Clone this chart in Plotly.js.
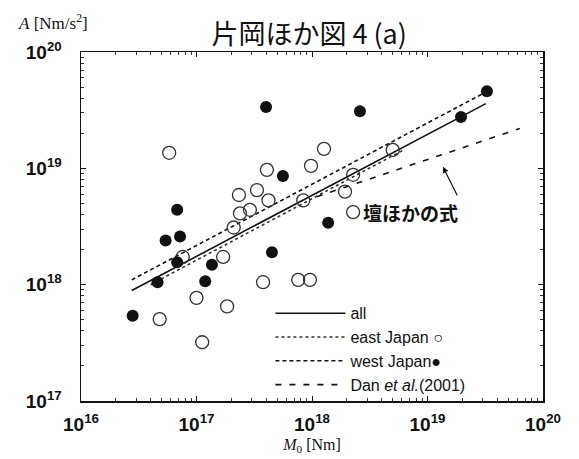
<!DOCTYPE html>
<html>
<head>
<meta charset="utf-8">
<script src="https://cdn.plot.ly/plotly-3.0.1.min.js"></script>
<style>html,body{margin:0;padding:0;background:#fff;}#chart{width:579px;height:459px;}</style>
</head>
<body>
<div id="chart"></div>
<script>
// West Japan (filled circles)
const westM0 = [4.0e17, 5.6e17, 6.8e16, 5.4e16, 7.2e16, 4.5e17, 1.36e17, 6.8e16, 4.6e16, 1.19e17, 2.8e16, 1.38e18, 2.6e18, 1.95e19, 3.27e19];
const westA  = [3.37e19, 8.6e18, 4.4e18, 2.4e18, 2.6e18, 1.9e18, 1.48e18, 1.56e18, 1.05e18, 1.07e18, 5.4e17, 3.4e18, 3.1e19, 2.76e19, 4.6e19];
// East Japan (open circles)
const eastM0 = [5.8e16, 4.07e17, 9.8e17, 1.27e18, 2.33e17, 3.34e17, 4.2e17, 2.38e17, 2.9e17, 2.1e17, 1.7e17, 7.6e16, 3.77e17, 7.6e17, 9.6e17, 1.0e17, 1.84e17, 4.8e16, 1.12e17, 5.0e18, 2.27e18, 2.27e18, 1.93e18, 8.4e17];
const eastA  = [1.36e19, 9.7e18, 1.05e19, 1.47e19, 5.9e18, 6.5e18, 5.3e18, 4.1e18, 4.4e18, 3.1e18, 1.73e18, 1.73e18, 1.05e18, 1.1e18, 1.1e18, 7.7e17, 6.5e17, 5.06e17, 3.2e17, 1.44e19, 8.8e18, 4.2e18, 6.3e18, 5.3e18];
// Regression / reference lines (end points)
const allLineM0  = [2.75e16, 3.2e19];
const allLineA   = [8.9e17, 3.6e19];
const eastLineM0 = [4.0e16, 6.3e18];
const eastLineA  = [1.0e18, 1.45e19];
const westLineM0 = [2.75e16, 3.3e19];
const westLineA  = [1.1e18, 4.6e19];
const danLineM0  = [1.1e18, 6.3e19];
const danLineA   = [5.7e18, 2.2e19];
// Axis ticks
const xTickVals = [1e16, 1e17, 1e18, 1e19, 1e20];
const xTickText = ['10<sup>16</sup>', '10<sup>17</sup>', '10<sup>18</sup>', '10<sup>19</sup>', '10<sup>20</sup>'];
const yTickVals = [1e17, 1e18, 1e19, 1e20];
const yTickText = ['10<sup>17</sup>', '10<sup>18</sup>', '10<sup>19</sup>', '10<sup>20</sup>'];
const legendNames = ['all', 'east Japan ○', 'west Japan●', 'Dan <i>et al.</i>(2001)'];

const tickFont = {family: 'Liberation Sans, Arial, sans-serif', size: 19, color: '#111', weight: 'bold'};

const traces = [
  {x: allLineM0, y: allLineA, mode: 'lines', name: legendNames[0], line: {color: '#111', width: 1.6, dash: 'solid'}},
  {x: eastLineM0, y: eastLineA, mode: 'lines', name: legendNames[1], line: {color: '#333', width: 1.6, dash: 'dot'}},
  {x: westLineM0, y: westLineA, mode: 'lines', name: legendNames[2], line: {color: '#111', width: 1.6, dash: '4px,3px'}},
  {x: danLineM0, y: danLineA, mode: 'lines', name: legendNames[3], line: {color: '#111', width: 1.6, dash: '6px,8px'}},
  {x: eastM0, y: eastA, mode: 'markers', showlegend: false,
   marker: {symbol: 'circle-open', size: 13, color: '#333', line: {width: 1.3, color: '#333'}}},
  {x: westM0, y: westA, mode: 'markers', showlegend: false,
   marker: {symbol: 'circle', size: 12, color: '#111', line: {width: 0}}}
];

const axisCommon = {
  type: 'log', showgrid: false, zeroline: false,
  showline: true, linecolor: '#111', linewidth: 1.5, mirror: 'allticks',
  ticks: 'inside', ticklen: 5, tickcolor: '#111', tickwidth: 1,
  tickmode: 'array', tickfont: tickFont,
  minor: {ticks: 'inside', ticklen: 3, tickcolor: '#333', dtick: 'D1', showgrid: false}
};

const layout = {
  width: 579, height: 459,
  margin: {l: 81, r: 36, t: 52, b: 58},
  paper_bgcolor: '#fff', plot_bgcolor: '#fff',
  title: {text: '片岡ほか図 4 (a)', font: {family: 'Noto Sans CJK JP, sans-serif', size: 27, color: '#111'},
          xref: 'container', yref: 'container', x: 0.534, y: 0.925, xanchor: 'center', yanchor: 'middle'},
  xaxis: Object.assign({}, axisCommon, {range: [16, 20], tickvals: xTickVals, ticktext: xTickText, ticklabelstandoff: 6,
          title: {text: '<i>M</i><sub>0</sub> [Nm]', font: {family: 'Liberation Serif, Times New Roman, serif', size: 16, color: '#111'}, standoff: 4}}),
  yaxis: Object.assign({}, axisCommon, {range: [17, 20], tickvals: yTickVals, ticktext: yTickText, ticklabelstandoff: 14}),
  showlegend: true,
  legend: {x: 0.41, y: 0.30, xanchor: 'left', yanchor: 'top', bgcolor: 'rgba(255,255,255,0)', borderwidth: 0,
           itemwidth: 70, tracegroupgap: 0,
           font: {family: 'Liberation Sans, Arial, sans-serif', size: 16, color: '#111'}},
  annotations: [
    {xref: 'paper', yref: 'paper', x: -0.14, y: 1.0, yshift: 30, xanchor: 'left', yanchor: 'middle', showarrow: false,
     text: '<i>A</i> [Nm/s<sup>2</sup>]', font: {family: 'Liberation Serif, Times New Roman, serif', size: 17, color: '#111'}},
    {x: Math.log10(1.36e19), y: Math.log10(1.03e19), xref: 'x', yref: 'y', showarrow: true, arrowhead: 2, arrowsize: 1,
     arrowwidth: 1.2, arrowcolor: '#111', ax: 15, ay: 30, text: ''},
    {x: Math.log10(7.1e18), y: Math.log10(4.2e18), xref: 'x', yref: 'y', showarrow: false,
     text: '<b>壇ほかの式</b>', font: {family: 'Noto Sans CJK JP, sans-serif', size: 19, color: '#111'}}
  ]
};

Plotly.newPlot('chart', traces, layout, {displayModeBar: false, staticPlot: true});
</script>
</body>
</html>
